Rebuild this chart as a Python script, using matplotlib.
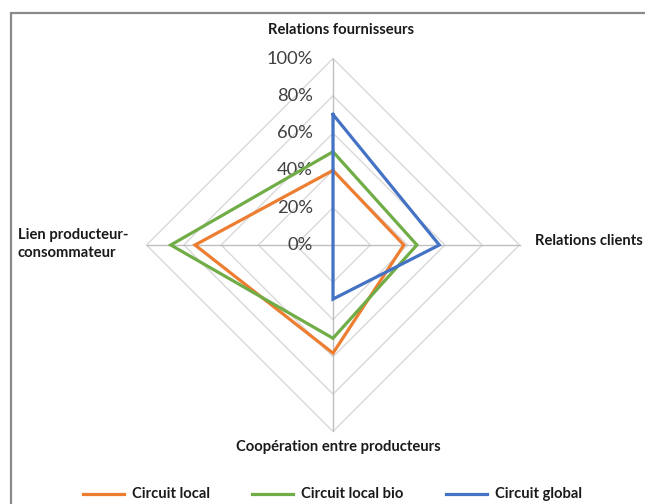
import numpy as np
import matplotlib
matplotlib.use("Agg")
import matplotlib.pyplot as plt
from matplotlib.lines import Line2D
from matplotlib.patches import Rectangle

# axes clockwise from the top
categories = ["Relations fournisseurs", "Relations clients",
              "Coopération entre producteurs", "Lien producteur-\nconsommateur"]
series_names = ["Circuit local", "Circuit local bio", "Circuit global"]
circuit_local = [40, 38, 58, 74]
circuit_local_bio = [50, 45, 50, 87]
circuit_global = [70, 57, 29, 0]
levels = [0, 20, 40, 60, 80, 100]
level_labels = ["0%", "20%", "40%", "60%", "80%", "100%"]

colors = ["#ED7D31", "#70AD47", "#4472C4"]
W, H = 645, 504
cx, cy, scale = 333, 245, 1.865   # centre in px, px per percent

fig = plt.figure(figsize=(W / 100, H / 100), dpi=100)
ax = fig.add_axes([0, 0, 1, 1])
ax.set_xlim(-cx / scale, (W - cx) / scale)
ax.set_ylim(-(H - cy) / scale, cy / scale)
ax.axis("off")

theta = np.arange(len(categories)) * 2 * np.pi / len(categories)


def to_xy(vals):
    v = np.asarray(vals, dtype=float)
    x = v * np.sin(theta)
    y = v * np.cos(theta)
    return np.append(x, x[0]), np.append(y, y[0])


# diamond grid
for lv in levels[1:]:
    gx, gy = to_xy([lv] * len(categories))
    ax.plot(gx, gy, color="#d9d9d9", lw=1.0, zorder=1)
for t in theta:
    ax.plot([0, 100 * np.sin(t)], [0, 100 * np.cos(t)], color="#bfbfbf", lw=1.0, zorder=1)

# value labels
for lv, lab in zip(levels, level_labels):
    ax.text(-10.7, lv, lab, ha="right", va="center", fontsize=13.2,
            color="#404040", family="Lato", zorder=2)

# series
for vals, c in zip([circuit_local, circuit_local_bio, circuit_global], colors):
    sx, sy = to_xy(vals)
    ax.plot(sx, sy, color=c, lw=2.3, zorder=3, solid_joinstyle="miter")

# category labels
lab_kw = dict(fontsize=10.6, fontweight="bold", family="Lato", color="#1a1a1a")
fig.text(341 / W, 1 - 30 / H, categories[0], ha="center", va="center", **lab_kw)
fig.text(535 / W, 1 - 241 / H, categories[1], ha="left", va="center", **lab_kw)
fig.text(338 / W, 1 - 447 / H, categories[2], ha="center", va="center", **lab_kw)
fig.text(18 / W, 1 - 244 / H, categories[3], ha="left", va="center",
         linespacing=1.3, **lab_kw)

# legend
leg_y = 1 - 494 / H
for name, c, x0 in zip(series_names, colors, [83, 252, 446]):
    fig.add_artist(Line2D([x0 / W, (x0 + 41) / W], [leg_y, leg_y], color=c, lw=2.3))
    fig.text((x0 + 49) / W, leg_y, name, ha="left", va="center", **lab_kw)

# outer frame
fig.add_artist(Rectangle((10.5 / W, -0.1), 1.2, 1.1 - 13.5 / H, transform=fig.transFigure,
                         fill=False, edgecolor="#898989", lw=1.6))

fig.savefig("out.png", dpi=100)
